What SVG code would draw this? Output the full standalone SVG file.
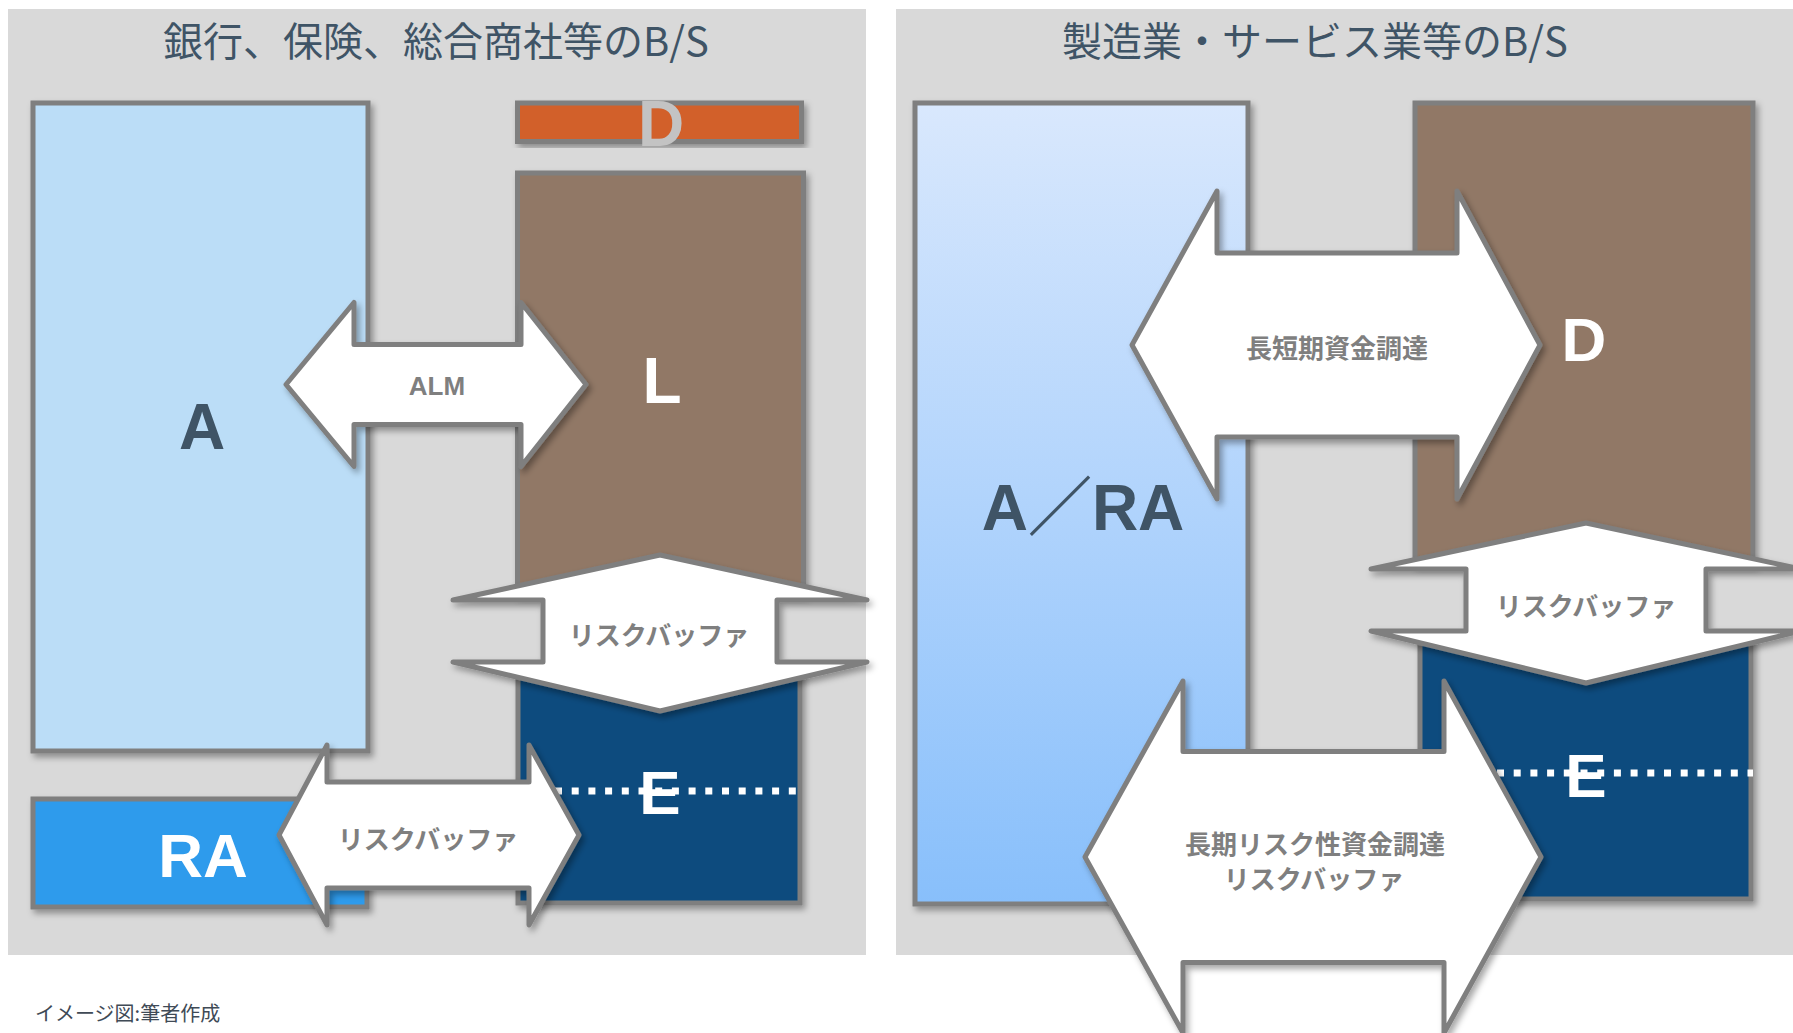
<svg xmlns="http://www.w3.org/2000/svg" width="1793" height="1033" viewBox="0 0 1793 1033">
<defs>
  <filter id="sh" x="-10%" y="-10%" width="125%" height="125%">
    <feDropShadow dx="3" dy="4" stdDeviation="3" flood-color="#000" flood-opacity="0.35"/>
  </filter>
  <linearGradient id="gAR" x1="0" y1="0" x2="0" y2="1">
    <stop offset="0" stop-color="#d9e8fd"/>
    <stop offset="1" stop-color="#88bffb"/>
  </linearGradient>
  <style>
    .panel{fill:#d9d9d9}
    .box{stroke:#7f7f7f;stroke-width:5;filter:url(#sh)}
    .arrow{fill:#fff;stroke:#7f7f7f;stroke-width:5;stroke-linejoin:round;filter:url(#sh)}
    .title{font-family:"Noto Sans CJK JP","Noto Sans",sans-serif;font-size:40px;fill:#3f5466;text-anchor:middle}
    .big{font-family:"Liberation Sans","Noto Sans CJK JP",sans-serif;font-weight:bold;text-anchor:middle}
    .lbl{font-family:"Noto Sans CJK JP",sans-serif;font-weight:bold;font-size:26px;fill:#7f7f7f;text-anchor:middle;dominant-baseline:central}
    .dots{stroke:#fff;stroke-width:7;stroke-dasharray:7 9.7;fill:none}
  </style>
</defs>

<g id="panel-left">
  <rect class="panel" x="8" y="9" width="858" height="946"/>
  <text class="title" x="436" y="56">銀行、保険、総合商社等のB/S</text>
</g>
<g id="panel-right">
  <rect class="panel" x="896" y="9" width="897" height="946"/>
  <text class="title" x="1315" y="56">製造業・サービス業等のB/S</text>
</g>

<g id="node-A">
  <rect class="box" x="33" y="103" width="335" height="648" fill="#bbddf7"/>
  <text class="big" x="202" y="449" font-size="64" fill="#3f5466">A</text>
</g>
<g id="node-D-left">
  <rect class="box" x="517.5" y="103" width="284" height="38.5" fill="#d2602a"/>
  <text class="big" x="661" y="146" font-size="64" fill="#c3c3c3">D</text>
</g>
<g id="node-L">
  <rect class="box" x="517.5" y="173" width="286" height="420" fill="#917866"/>
  <text class="big" x="662" y="403" font-size="64" fill="#fff">L</text>
</g>
<g id="node-E-left">
  <rect class="box" x="518" y="668" width="282" height="235" fill="#0b4c7e" stroke-width="3"/>
  <line class="dots" x1="555" y1="791" x2="802" y2="791"/>
  <text class="big" x="660" y="814" font-size="62" fill="#fff">E</text>
</g>
<g id="node-RA">
  <rect class="box" x="33" y="799" width="334" height="108" fill="#2f9bec"/>
  <text class="big" x="203" y="877" font-size="62" fill="#fff">RA</text>
</g>

<g id="node-ARA">
  <rect class="box" x="915" y="103" width="333" height="801" fill="url(#gAR)"/>
  <text class="big" x="1083" y="530" font-size="64" fill="#3f5466">A／RA</text>
</g>
<g id="node-D-right">
  <rect class="box" x="1415" y="103" width="338" height="460" fill="#917866"/>
  <text class="big" x="1584" y="361" font-size="62" fill="#fff">D</text>
</g>
<g id="node-E-right">
  <rect class="box" x="1420" y="638" width="331" height="261" fill="#0b4c7e" stroke-width="3"/>
  <line class="dots" x1="1497" y1="773" x2="1753" y2="773"/>
  <text class="big" x="1586" y="797" font-size="62" fill="#fff">E</text>
</g>

<g id="connectors">
  <g id="arrow-ALM">
    <polygon class="arrow" points="286,384.5 354,302.5 354,344.5 521,344.5 521,302.5 586,384.5 521,466.5 521,424.5 354,424.5 354,466.5"/>
    <text class="big" x="437" y="395" font-size="26" fill="#7f7f7f">ALM</text>
  </g>
  <g id="arrow-buffer-left-v">
    <polygon class="arrow" points="660,555 867,600 777,600 777,662 867,662 660,711 453,662 543,662 543,600 453,600"/>
    <text class="lbl" x="659" y="633">リスクバッファ</text>
  </g>
  <g id="arrow-buffer-left-h">
    <polygon class="arrow" points="279,835 327,745 327,782 529,782 529,745 579,835 529,925 529,888 327,888 327,925"/>
    <text class="lbl" x="428" y="837">リスクバッファ</text>
  </g>
  <g id="arrow-funding">
    <polygon class="arrow" points="1132,345 1217,191 1217,253 1457,253 1457,191 1540,345 1457,499 1457,437 1217,437 1217,499"/>
    <text class="lbl" x="1337" y="346">長短期資金調達</text>
  </g>
  <g id="arrow-buffer-right-v">
    <polygon class="arrow" points="1586,523 1801,569 1706,569 1706,631 1801,631 1586,683 1371,631 1466,631 1466,569 1371,569"/>
    <text class="lbl" x="1586" y="604">リスクバッファ</text>
  </g>
  <g id="arrow-longterm">
    <polygon class="arrow" points="1085,857 1183,681 1183,751.5 1444,751.5 1444,681 1541,857 1444,1033 1444,962.5 1183,962.5 1183,1033"/>
    <text class="lbl" x="1315" y="842" font-size="25">長期リスク性資金調達</text>
    <text class="lbl" x="1314" y="877" font-size="25">リスクバッファ</text>
  </g>
</g>

<text x="35" y="1021" font-family="'Noto Sans CJK JP','Noto Sans',sans-serif" font-size="20" fill="#404a56">イメージ図:筆者作成</text>
</svg>
